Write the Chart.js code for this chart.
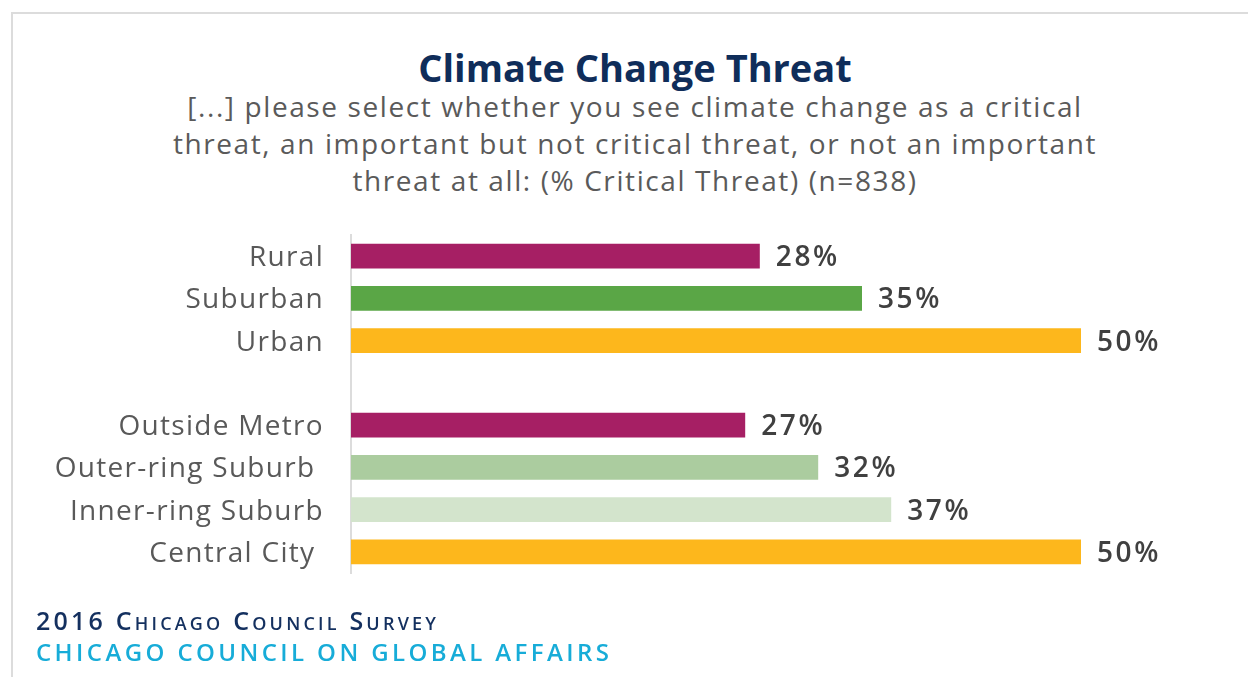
<!DOCTYPE html>
<html>
<head>
<meta charset="utf-8">
<script src="https://cdn.jsdelivr.net/npm/chart.js@4.4.1/dist/chart.umd.min.js"></script>
<style>
  html, body { margin: 0; padding: 0; background: #fff; }
  body { width: 1248px; height: 677px; position: relative; overflow: hidden; font-family: "Open Sans", sans-serif; }
  .frame { position: absolute; left: 11px; top: 12px; width: 1300px; height: 700px; border-left: 2px solid #dcdcdc; border-top: 2px solid #dcdcdc; }
  #chart-wrap { position: absolute; left: 0; top: 0; width: 1248px; height: 677px; }
  .title { position: absolute; left: 0; width: 1270px; top: 41px; text-align: center; font-weight: 700; font-size: 38px; color: #0f2d5a; }
  .subtitle { position: absolute; left: 0; width: 1270px; top: 88px; text-align: center; font-size: 28px; line-height: 37px; letter-spacing: 1.6px; color: #5a5a5a; }
  .source { position: absolute; left: 36px; top: 603px; font-size: 25px; letter-spacing: 3.2px; color: #14305f; font-variant: small-caps; font-weight: 600; }
  .org { position: absolute; left: 36px; top: 635px; font-size: 24px; letter-spacing: 3.4px; color: #17acd8; font-weight: 600; }
</style>
</head>
<body>
<div class="frame"></div>
<div class="title">Climate Change Threat</div>
<div class="subtitle">[...] please select whether you see climate change as a critical<br>threat, an important but not critical threat, or not an important<br>threat at all: (% Critical Threat) (n=838)</div>
<div id="chart-wrap"><canvas id="bar-graph" width="1248" height="677"></canvas></div>
<div class="source">2016 Chicago Council Survey</div>
<div class="org">CHICAGO COUNCIL ON GLOBAL AFFAIRS</div>

<script>
const categories = ['Rural', 'Suburban', 'Urban', '', 'Outside Metro', 'Outer-ring Suburb ', 'Inner-ring Suburb', 'Central City '];
const critical = [28, 35, 50, null, 27, 32, 37, 50];
const barColors = ['#a61f64', '#5aa646', '#fdb71c', '#ffffff', '#a61f64', '#abcc9f', '#d3e4cc', '#fdb71c'];

// wider tracking for the category names
const tracking = {
    id: 'tracking',
    beforeDraw(chart) {
        chart.ctx.letterSpacing = '1.3px';
    }
};

// percentage text just past the end of each bar
const valueLabels = {
    id: 'valueLabels',
    afterDatasetsDraw(chart) {
        const ctx = chart.ctx;
        const meta = chart.getDatasetMeta(0);
        ctx.save();
        ctx.font = '600 28px "Open Sans"';
        ctx.letterSpacing = '2.6px';
        ctx.fillStyle = '#404040';
        ctx.textAlign = 'left';
        ctx.textBaseline = 'middle';
        meta.data.forEach((bar, i) => {
            if (critical[i] == null) return;
            ctx.fillText(critical[i] + '%', bar.x + 16, bar.y + 2);
        });
        ctx.restore();
    }
};

const canvas = document.getElementById('bar-graph');
const bar_graph = new Chart(canvas, {
    type: 'bar',
    data: {
        labels: categories,
        datasets: [
            {
                label: 'Critical threat',
                data: critical,
                backgroundColor: barColors,
                categoryPercentage: 1,
                barPercentage: 0.59,
            },
        ]
    },
    options: {
        indexAxis: 'y',
        responsive: false,
        animation: false,
        layout: {
            padding: { top: 235, bottom: 104, left: 0, right: 167 }
        },
        plugins: {
            legend: { display: false },
            tooltip: { enabled: false },
        },
        scales: {
            x: {
                min: 0,
                max: 50,
                display: false,
            },
            y: {
                afterFit(scale) { scale.width = 351; },
                grid: { display: false, drawTicks: false },
                border: { display: true, color: '#dcdcdc', width: 2 },
                ticks: {
                    padding: 27,
                    labelOffset: 2,
                    color: '#595959',
                    font: { family: 'Open Sans', size: 28 },
                },
            },
        },
    },
    plugins: [tracking, valueLabels],
});
</script>
</body>
</html>
